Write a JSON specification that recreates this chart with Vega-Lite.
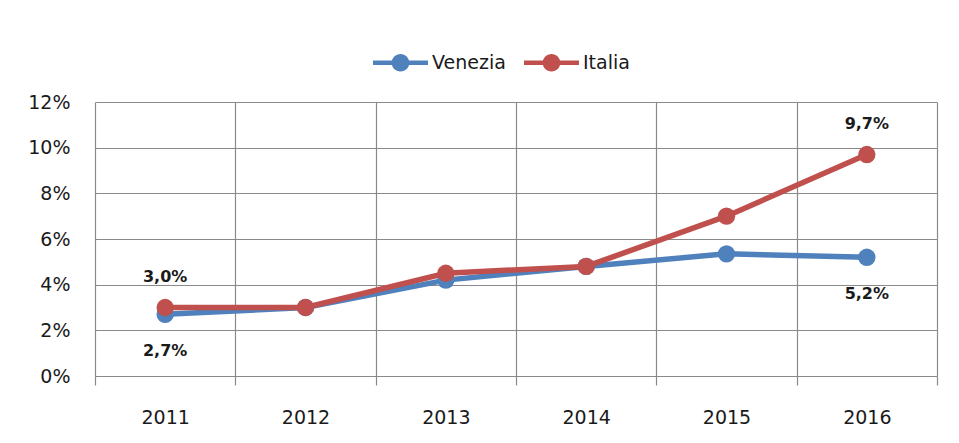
{
  "$schema": "https://vega.github.io/schema/vega-lite/v6.json",
  "width": 842,
  "height": 274,
  "autosize": {"type": "none"},
  "padding": {"left": 95, "top": 102, "right": 22, "bottom": 67},
  "background": "white",
  "config": {
    "font": "DejaVu Sans",
    "view": {"stroke": null},
    "locale": {"number": {"decimal": ",", "thousands": ".", "grouping": [3], "currency": ["€", ""]}}
  },
  "data": {
    "values": [
      {"year": "2011", "series": "Venezia", "value": 0.027},
      {"year": "2012", "series": "Venezia", "value": 0.030},
      {"year": "2013", "series": "Venezia", "value": 0.042},
      {"year": "2014", "series": "Venezia", "value": 0.048},
      {"year": "2015", "series": "Venezia", "value": 0.0535},
      {"year": "2016", "series": "Venezia", "value": 0.052},
      {"year": "2011", "series": "Italia", "value": 0.030},
      {"year": "2012", "series": "Italia", "value": 0.030},
      {"year": "2013", "series": "Italia", "value": 0.045},
      {"year": "2014", "series": "Italia", "value": 0.048},
      {"year": "2015", "series": "Italia", "value": 0.070},
      {"year": "2016", "series": "Italia", "value": 0.097}
    ]
  },
  "encoding": {
    "x": {
      "field": "year", "type": "ordinal", "title": null,
      "scale": {"type": "band", "paddingInner": 0, "paddingOuter": 0},
      "axis": {
        "tickBand": "extent", "grid": true, "gridColor": "#8a8a8a", "gridWidth": 1.2,
        "tickColor": "#8a8a8a", "tickWidth": 1.2, "tickSize": 9, "domain": false,
        "labelAngle": 0, "labelFontSize": 19, "labelColor": "#1a1a1a", "labelPadding": 23
      }
    },
    "y": {
      "field": "value", "type": "quantitative", "title": null,
      "scale": {"domain": [0, 0.12], "nice": false},
      "axis": {
        "values": [0, 0.02, 0.04, 0.06, 0.08, 0.1, 0.12], "format": ".0%",
        "grid": true, "gridColor": "#8a8a8a", "gridWidth": 1.2, "ticks": false, "domain": false,
        "labelFontSize": 19, "labelColor": "#1a1a1a", "labelPadding": 25
      }
    },
    "color": {
      "field": "series", "type": "nominal",
      "scale": {"domain": ["Venezia", "Italia"], "range": ["#4F81BD", "#C0504D"]},
      "legend": {
        "title": null, "orient": "none", "direction": "horizontal",
        "legendX": 278, "legendY": -67,
        "symbolType": "M-1,-0.08L1,-0.08L1,0.08L-1,0.08Z M0.32,0A0.32,0.32 0 1,1 -0.32,0A0.32,0.32 0 1,1 0.32,0Z",
        "symbolSize": 3025, "symbolStrokeWidth": 0,
        "labelFontSize": 19, "labelColor": "#1a1a1a", "labelOffset": 4, "columnPadding": 18,
        "encode": {"symbols": {"update": {"fill": {"scale": "color", "field": "value"}, "stroke": {"value": "transparent"}, "opacity": {"value": 1}}}}
      }
    }
  },
  "layer": [
    {"transform": [{"filter": "datum.series == 'Venezia'"}], "mark": {"type": "line", "strokeWidth": 5.5}},
    {"transform": [{"filter": "datum.series == 'Venezia'"}], "mark": {"type": "point", "filled": true, "size": 300, "opacity": 1}},
    {"transform": [{"filter": "datum.series == 'Italia'"}], "mark": {"type": "line", "strokeWidth": 5.5}},
    {"transform": [{"filter": "datum.series == 'Italia'"}], "mark": {"type": "point", "filled": true, "size": 300, "opacity": 1}},
    {
      "transform": [{"filter": "datum.series == 'Italia' && (datum.year == '2011' || datum.year == '2016')"}],
      "mark": {"type": "text", "dy": -31, "fontSize": 16, "fontWeight": "bold", "color": "#1a1a1a"},
      "encoding": {"text": {"field": "value", "type": "quantitative", "format": ".1%"}, "color": {"value": "#1a1a1a"}}
    },
    {
      "transform": [{"filter": "datum.series == 'Venezia' && (datum.year == '2011' || datum.year == '2016')"}],
      "mark": {"type": "text", "dy": 37, "fontSize": 16, "fontWeight": "bold", "color": "#1a1a1a"},
      "encoding": {"text": {"field": "value", "type": "quantitative", "format": ".1%"}, "color": {"value": "#1a1a1a"}}
    }
  ]
}
